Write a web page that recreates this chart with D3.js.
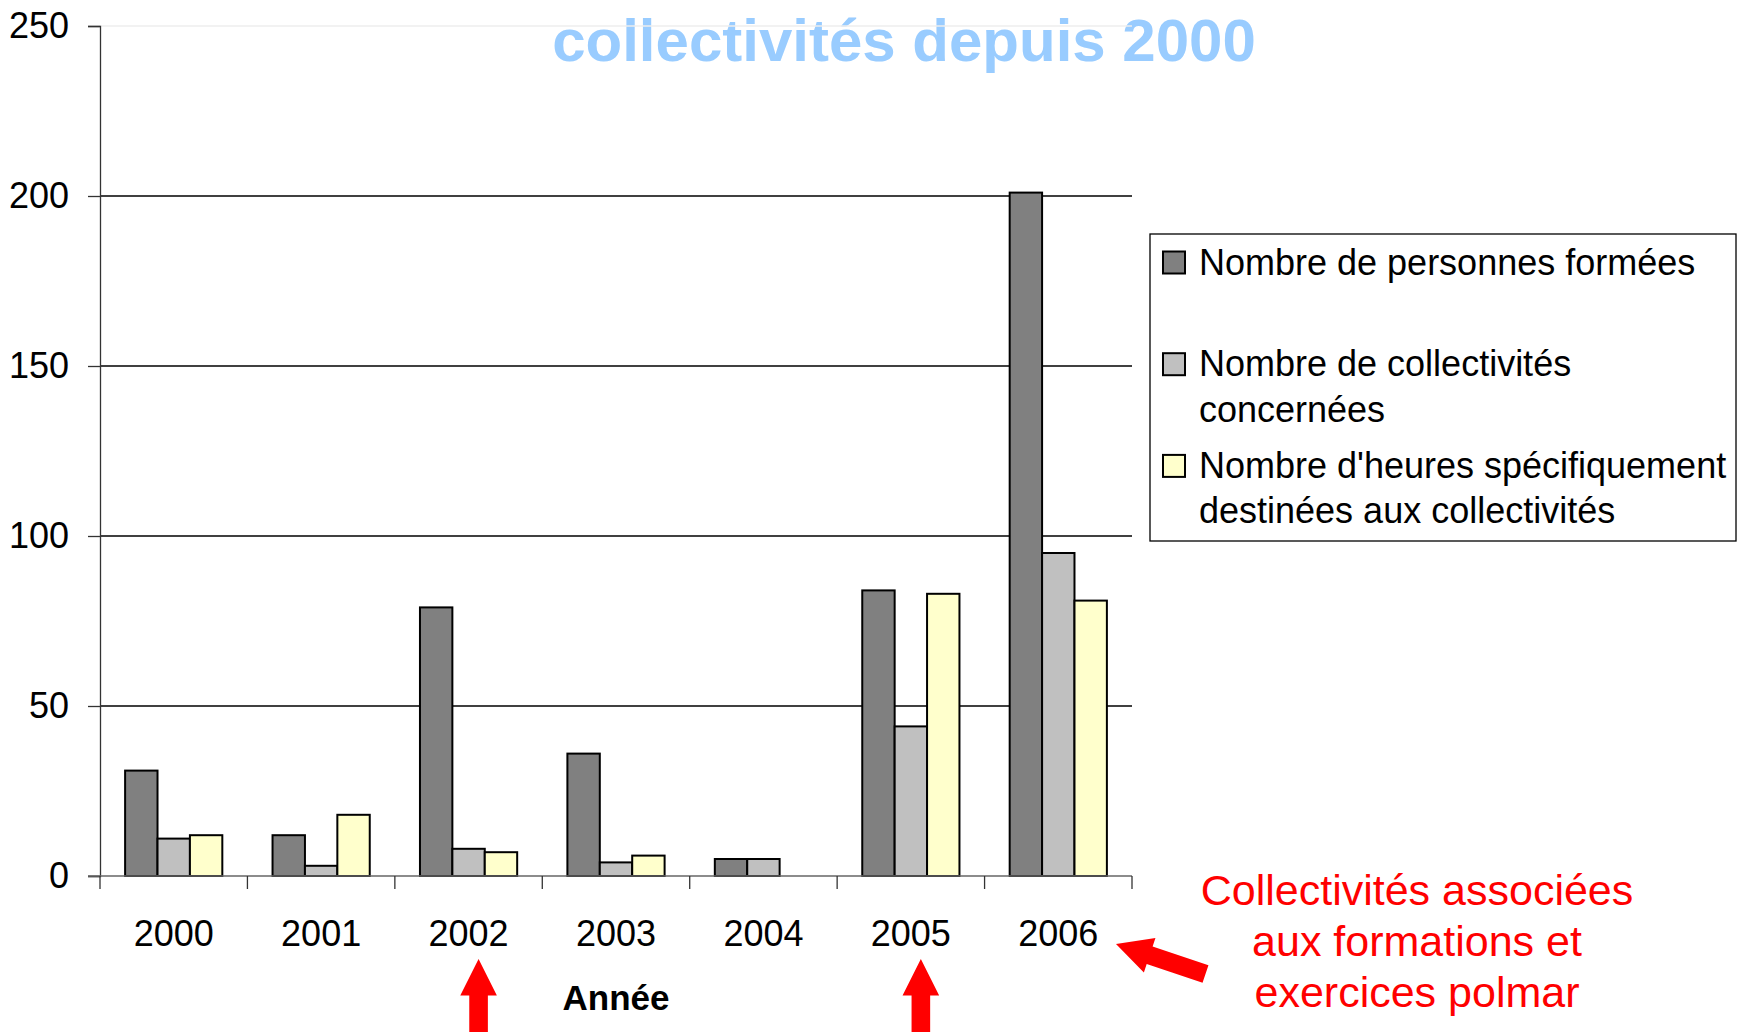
<!DOCTYPE html>
<html>
<head>
<meta charset="utf-8">
<script src="https://cdn.jsdelivr.net/npm/d3@7"></script>
<style>
  body { margin: 0; background: #fff; }
  svg text { font-family: "Liberation Sans", Arial, sans-serif; }
</style>
</head>
<body>
<div id="chart"></div>
<script>
const years = ["2000", "2001", "2002", "2003", "2004", "2005", "2006"];
const seriesNames = [
  "Nombre de personnes formées",
  "Nombre de collectivités concernées",
  "Nombre d'heures spécifiquement destinées aux collectivités"
];
const personnes = [31, 12, 79, 36, 5, 84, 201];
const collectivites = [11, 3, 8, 4, 5, 44, 95];
const heures = [12, 18, 7, 6, 0, 83, 81];
const yTicks = [0, 50, 100, 150, 200, 250];
const legendLines = [
  ["Nombre de personnes formées"],
  ["Nombre de collectivités", "concernées"],
  ["Nombre d'heures spécifiquement", "destinées aux collectivités"]
];
const arrowYears = ["2002", "2005"];
const noteLines = ["Collectivités associées", "aux formations et", "exercices polmar"];

const WIDTH = 1742;
const HEIGHT = 1032;
const colors = ["#808080", "#C0C0C0", "#FFFFCC"];

const svg = d3.select("#chart").append("svg")
  .attr("width", WIDTH)
  .attr("height", HEIGHT);

const x = d3.scaleBand().domain(years).range([100, 1132]).padding(0);
const xInner = d3.scaleBand().domain(d3.range(3)).range([0, x.bandwidth()])
  .paddingInner(0).paddingOuter(0.775);
const y = d3.scaleLinear().domain([0, 250]).range([876, 26]);

// titre (seule la 2e ligne est visible)
svg.append("text")
  .attr("x", 904).attr("y", 61)
  .attr("text-anchor", "middle")
  .attr("font-size", 60).attr("font-weight", "bold")
  .attr("fill", "#99CCFF")
  .text("collectivités depuis 2000");

// grille
svg.append("g").selectAll("line")
  .data(yTicks.filter(d => d > 0))
  .join("line")
  .attr("x1", 100).attr("x2", 1132)
  .attr("y1", d => y(d)).attr("y2", d => y(d))
  .attr("stroke", d => d === 250 ? "#eeeeee" : "#000")
  .attr("stroke-width", 1.3);

// axe Y
const yAxis = svg.append("g")
  .attr("transform", "translate(100,0)")
  .call(d3.axisLeft(y).tickValues(yTicks).tickSize(12).tickPadding(19));
yAxis.select(".domain").attr("stroke", "#333").attr("stroke-width", 1.3);
yAxis.selectAll(".tick line").attr("stroke", "#333").attr("stroke-width", 1.3);
yAxis.selectAll(".tick text")
  .attr("font-size", 36).attr("fill", "#000")
  .attr("font-family", "Liberation Sans, Arial, sans-serif");

// barres
const data = years.map((yr, i) => ({ year: yr, values: [personnes[i], collectivites[i], heures[i]] }));
const groups = svg.append("g").selectAll("g")
  .data(data)
  .join("g")
  .attr("transform", d => `translate(${x(d.year)},0)`);

groups.selectAll("rect")
  .data(d => d.values.map((v, k) => ({ v, k })).filter(e => e.v > 0))
  .join("rect")
  .attr("x", e => xInner(e.k))
  .attr("width", xInner.bandwidth())
  .attr("y", e => y(e.v))
  .attr("height", e => y(0) - y(e.v))
  .attr("fill", e => colors[e.k])
  .attr("stroke", "#000")
  .attr("stroke-width", 2);

// axe X
svg.append("line")
  .attr("x1", 88).attr("x2", 1132)
  .attr("y1", y(0)).attr("y2", y(0))
  .attr("stroke", "#666").attr("stroke-width", 1.3);
svg.append("g").selectAll("line")
  .data(years.concat(["end"]))
  .join("line")
  .attr("x1", (d, i) => 100 + i * x.step()).attr("x2", (d, i) => 100 + i * x.step())
  .attr("y1", y(0)).attr("y2", y(0) + 13)
  .attr("stroke", "#333").attr("stroke-width", 1.3);
svg.append("g").selectAll("text")
  .data(years)
  .join("text")
  .attr("x", d => x(d) + x.bandwidth() / 2)
  .attr("y", 946)
  .attr("text-anchor", "middle")
  .attr("font-size", 36)
  .text(d => d);

svg.append("text")
  .attr("x", 616).attr("y", 1010)
  .attr("text-anchor", "middle")
  .attr("font-size", 35).attr("font-weight", "bold")
  .text("Année");

// légende
const legend = svg.append("g");
legend.append("rect")
  .attr("x", 1150).attr("y", 234)
  .attr("width", 586).attr("height", 307)
  .attr("fill", "#fff").attr("stroke", "#000").attr("stroke-width", 1.3);
legendLines.forEach((lines, i) => {
  const cy = 262.5 + i * 101.7;
  legend.append("rect")
    .attr("x", 1163).attr("y", cy - 11)
    .attr("width", 22).attr("height", 22)
    .attr("fill", colors[i]).attr("stroke", "#000").attr("stroke-width", 2);
  lines.forEach((t, j) => {
    legend.append("text")
      .attr("x", 1199).attr("y", cy + 12 + j * 45.5)
      .attr("font-size", 36)
      .text(t);
  });
});

// flèches rouges
const upArrow = [[0, 0], [18.3, 36.5], [9.3, 36.5], [9.3, 80], [-9.3, 80], [-9.3, 36.5], [-18.3, 36.5]];
svg.append("g").selectAll("path")
  .data(arrowYears)
  .join("path")
  .attr("transform", d => `translate(${x(d) + x.bandwidth() / 2 + 10},959)`)
  .attr("d", d3.line()(upArrow) + "Z")
  .attr("fill", "#FF0000");

const L = 94.4;
const sideArrow = [[0, -9.3], [L - 35.5, -9.3], [L - 35.5, -18.2], [L, 0], [L - 35.5, 18.2], [L - 35.5, 9.3], [0, 9.3]];
const ang = Math.atan2(944 - 974, 1116 - 1205.5) * 180 / Math.PI;
svg.append("path")
  .attr("transform", `translate(1205.5,974) rotate(${ang})`)
  .attr("d", d3.line()(sideArrow) + "Z")
  .attr("fill", "#FF0000");

svg.append("g").selectAll("text")
  .data(noteLines)
  .join("text")
  .attr("x", 1417).attr("y", (d, i) => 905 + i * 51)
  .attr("text-anchor", "middle")
  .attr("font-size", 43)
  .attr("fill", "#FF0000")
  .text(d => d);
</script>
</body>
</html>
